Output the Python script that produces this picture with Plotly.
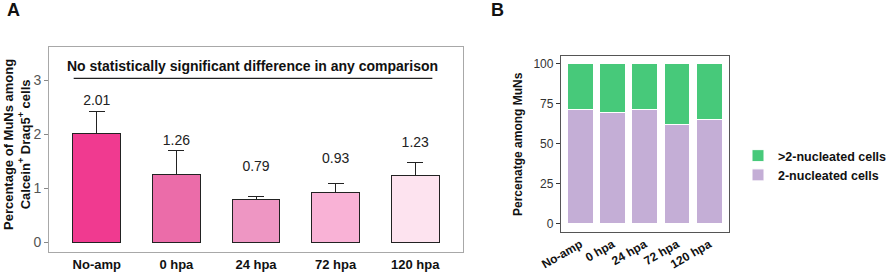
import plotly.graph_objects as go

# ---- data ----
groups = ["No-amp", "0 hpa", "24 hpa", "72 hpa", "120 hpa"]
muns_pct = [2.01, 1.26, 0.79, 0.93, 1.23]
muns_err = [0.42, 0.44, 0.055, 0.16, 0.25]
bar_colors_a = ["#F03A90", "#EB6CA9", "#EE96C3", "#F9B2D6", "#FDE3EF"]
label_text = ["2.01", "1.26", "0.79", "0.93", "1.23"]

two_nuc = [71.2, 69.8, 71.3, 62.0, 65.0]
more_nuc = [100 - v for v in two_nuc]

W, H = 886, 275
FONT = "Liberation Sans, Arial, sans-serif"

def px(x):
    return x / W

def py(y):
    return 1 - y / H

fig = go.Figure()

# Panel A bars
fig.add_trace(go.Bar(
    x=groups, y=muns_pct, width=0.6,
    marker=dict(color=bar_colors_a, line=dict(color="#222222", width=1)),
    error_y=dict(type="data", symmetric=False, array=muns_err,
                 arrayminus=[0] * len(muns_err), color="#222222",
                 thickness=1, width=8),
    xaxis="x", yaxis="y", showlegend=False,
))
# value labels
fig.add_trace(go.Scatter(
    x=groups, y=[v + 0.6 for v in muns_pct], text=label_text, mode="text",
    textfont=dict(family=FONT, size=14, color="#222222"),
    xaxis="x", yaxis="y", showlegend=False, hoverinfo="skip",
))

# Panel B stacked bars
fig.add_trace(go.Bar(
    x=groups, y=two_nuc, width=0.8, name="2-nucleated cells",
    marker=dict(color="#C4AED6", line=dict(color="white", width=1)),
    xaxis="x2", yaxis="y2",
))
fig.add_trace(go.Bar(
    x=groups, y=more_nuc, width=0.8, name=">2-nucleated cells",
    marker=dict(color="#47C97A", line=dict(color="white", width=1)),
    xaxis="x2", yaxis="y2",
))

fig.update_layout(
    width=W, height=H,
    margin=dict(l=0, r=0, t=0, b=0, autoexpand=False),
    paper_bgcolor="white", plot_bgcolor="white",
    barmode="stack",
    font=dict(family=FONT, color="#222222"),
    xaxis=dict(domain=[px(49), px(463)], range=[-0.6, 4.6], anchor="y", automargin=False,
               showline=True, linecolor="#A8A8A8", linewidth=1, mirror=True,
               ticks="", showgrid=False, zeroline=False,
               tickfont=dict(family=FONT, size=13, color="#111111", weight="bold")),
    yaxis=dict(domain=[py(252), py(47)], range=[-0.18, 3.62], anchor="x", automargin=False,
               showline=True, linecolor="#A8A8A8", linewidth=1, mirror=True,
               ticks="outside", ticklen=4, tickcolor="#888888",
               tickvals=[0, 1, 2, 3], showgrid=False, zeroline=False,
               tickfont=dict(family=FONT, size=14, color="#555555")),
    xaxis2=dict(domain=[px(561), px(728.5)], range=[-0.6, 4.6], anchor="y2", automargin=False,
                showline=True, linecolor="#555555", linewidth=1.3, mirror=True,
                ticks="", showgrid=False, zeroline=False, tickangle=-30,
                tickfont=dict(family=FONT, size=12, color="#111111", weight="bold")),
    yaxis2=dict(domain=[py(231.7), py(56)], range=[-5, 105], anchor="x2", automargin=False,
                showline=True, linecolor="#555555", linewidth=1.3, mirror=True,
                ticks="outside", ticklen=4, tickcolor="#333333",
                tickvals=[0, 25, 50, 75, 100], showgrid=False, zeroline=False,
                tickfont=dict(family=FONT, size=12, color="#333333")),
    legend=dict(x=px(738), y=py(141), xanchor="left", yanchor="top",
                traceorder="reversed",
                font=dict(family=FONT, size=12.5, color="#111111", weight="bold"),
                itemwidth=30, tracegroupgap=0, bgcolor="rgba(0,0,0,0)"),
)

# significance line and text (panel A, data coords)
fig.add_shape(type="line", xref="x", yref="y", x0=-0.29, x1=4.215, y0=3.04, y1=3.04,
              line=dict(color="#222222", width=1.2))
fig.add_annotation(xref="x", yref="y", x=1.95, y=3.27, xanchor="center", yanchor="middle",
                   text="No statistically significant difference in any comparison",
                   showarrow=False, font=dict(family=FONT, size=14, color="#111111", weight="bold"))

# axis titles
fig.add_annotation(xref="paper", yref="paper", x=px(17), y=py(145), textangle=-90,
                   xanchor="center", yanchor="middle",
                   text="Percentage of MuNs among<br>Calcein<sup>+</sup> Draq5<sup>+</sup> cells",
                   showarrow=False,
                   font=dict(family=FONT, size=13, color="#111111", weight="bold"))
fig.add_annotation(xref="paper", yref="paper", x=px(518), y=py(144), textangle=-90,
                   xanchor="center", yanchor="middle",
                   text="Percenatge among MuNs", showarrow=False,
                   font=dict(family=FONT, size=12, color="#111111", weight="bold"))

# panel letters
fig.add_annotation(xref="paper", yref="paper", x=px(13), y=py(10), text="A",
                   xanchor="center", yanchor="middle",
                   showarrow=False, font=dict(family=FONT, size=18, color="#111111", weight="bold"))
fig.add_annotation(xref="paper", yref="paper", x=px(498), y=py(10), text="B",
                   xanchor="center", yanchor="middle",
                   showarrow=False, font=dict(family=FONT, size=18, color="#111111", weight="bold"))

fig.write_html("out.html", config={"displayModeBar": False},
               post_script="document.body.style.margin='0';")
